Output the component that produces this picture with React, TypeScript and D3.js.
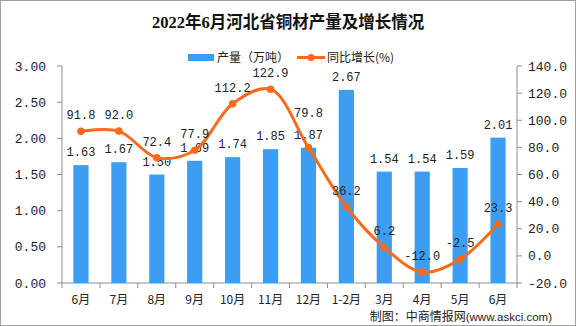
import React from "react";
import * as d3 from "d3";

const categories = ["6月", "7月", "8月", "9月", "10月", "11月", "12月", "1-2月", "3月", "4月", "5月", "6月"];
const output = [1.63, 1.67, 1.5, 1.69, 1.74, 1.85, 1.87, 2.67, 1.54, 1.54, 1.59, 2.01];
const growth = [91.8, 92.0, 72.4, 77.9, 112.2, 122.9, 79.8, 36.2, 6.2, -12.0, -2.5, 23.3];
const leftTicks = [0, 0.5, 1, 1.5, 2, 2.5, 3];
const rightTicks = [-20, 0, 20, 40, 60, 80, 100, 120, 140];

const W = 576, H = 326;
const L = 62, R = 517, T = 66, B = 283;
const BAR = "#3d9df2";
const LINE = "#fa6a1c";
const AX = "#8c8c8c";
const NUM = "'Liberation Mono', 'DejaVu Sans Mono', 'Noto Sans CJK SC', monospace";
const CJK = "'Noto Sans CJK SC', sans-serif";

export default function App() {
  const x = d3.scaleBand<number>().domain(categories.map((_, i) => i)).range([L, R]).padding(0);
  const yL = d3.scaleLinear().domain([0, 3]).range([B, T]);
  const yR = d3.scaleLinear().domain([-20, 140]).range([B, T]);
  const bw = x.bandwidth() * 0.4;
  const cx = (i: number) => (x(i) as number) + x.bandwidth() / 2;
  const line = d3
    .line<number>()
    .x((_, i) => cx(i))
    .y((d) => yR(d))
    .curve(d3.curveCatmullRom.alpha(0.5));

  const barLabelY = (i: number) => yL(output[i]) - 9;
  const lineLabelY = (i: number) => {
    const y = yR(growth[i]) - 12;
    const by = barLabelY(i);
    if (Math.abs(y - by) < 12) return by - 22;
    return y;
  };

  return (
    <svg width={W} height={H} style={{ position: "absolute", left: 0, top: 0, background: "#fff" }}>
      <rect x={0.5} y={0.5} width={W - 1} height={H - 1} fill="#fff" stroke="#a0a0a0" />
      <text x={288} y={28} textAnchor="middle" fontFamily="'Liberation Serif', 'Noto Sans CJK SC', serif" fontWeight="bold" fontSize={16.5} fill="#111">
        2022年6月河北省铜材产量及增长情况
      </text>
      {/* legend */}
      <rect x={188} y={54} width={26} height={7} fill={BAR} />
      <text x={217} y={62} fontFamily={CJK} fontSize={12} fill="#222">产量（万吨）</text>
      <line x1={297} x2={325} y1={57.5} y2={57.5} stroke={LINE} strokeWidth={3} />
      <circle cx={311} cy={57.5} r={3.5} fill={LINE} />
      <text x={327} y={62} fontFamily={CJK} fontSize={12} fill="#222">同比增长(%)</text>

      {/* axes */}
      <line x1={L} x2={L} y1={T} y2={B} stroke={AX} />
      <line x1={R} x2={R} y1={T} y2={B} stroke={AX} />
      <line x1={L} x2={R} y1={B} y2={B} stroke={AX} />
      {leftTicks.map((t) => (
        <g key={"l" + t}>
          <line x1={L - 5} x2={L} y1={yL(t)} y2={yL(t)} stroke={AX} />
          <text x={L - 16} y={yL(t) + 4.5} textAnchor="end" fontFamily={NUM} fontSize={13} fill="#222">
            {t.toFixed(2)}
          </text>
        </g>
      ))}
      {rightTicks.map((t) => (
        <g key={"r" + t}>
          <line x1={R} x2={R + 5} y1={yR(t)} y2={yR(t)} stroke={AX} />
          <text x={R + 11} y={yR(t) + 4.5} textAnchor="start" fontFamily={NUM} fontSize={13} fill="#222">
            {t.toFixed(1)}
          </text>
        </g>
      ))}
      {categories.map((c, i) => (
        <g key={"x" + i}>
          <line x1={x(i) as number} x2={x(i) as number} y1={B} y2={B + 5} stroke={AX} />
          <text x={cx(i)} y={304} textAnchor="middle" fontFamily={CJK} fontSize={12} fill="#222">
            {c}
          </text>
        </g>
      ))}
      <line x1={R} x2={R} y1={B} y2={B + 5} stroke={AX} />

      {/* bars */}
      {output.map((v, i) => (
        <rect key={"b" + i} x={cx(i) - bw / 2} y={yL(v)} width={bw} height={B - yL(v)} fill={BAR} />
      ))}
      {output.map((v, i) => (
        <text key={"bl" + i} x={cx(i)} y={barLabelY(i)} textAnchor="middle" fontFamily={NUM} fontSize={12} fill="#222">
          {v.toFixed(2)}
        </text>
      ))}

      {/* line */}
      <path d={line(growth) || ""} fill="none" stroke={LINE} strokeWidth={3} />
      {growth.map((v, i) => (
        <circle key={"p" + i} cx={cx(i)} cy={yR(v)} r={3.8} fill={LINE} />
      ))}
      {growth.map((v, i) => (
        <text key={"gl" + i} x={cx(i)} y={lineLabelY(i)} textAnchor="middle" fontFamily={NUM} fontSize={12} fill="#222">
          {v.toFixed(1)}
        </text>
      ))}

      <text x={552} y={321} textAnchor="end" fontFamily={CJK} fontSize={12} fill="#222">
        制图：中商情报网<tspan fontFamily="'Liberation Sans', sans-serif" fontSize={11.5}>(www.askci.com)</tspan>
      </text>
    </svg>
  );
}
